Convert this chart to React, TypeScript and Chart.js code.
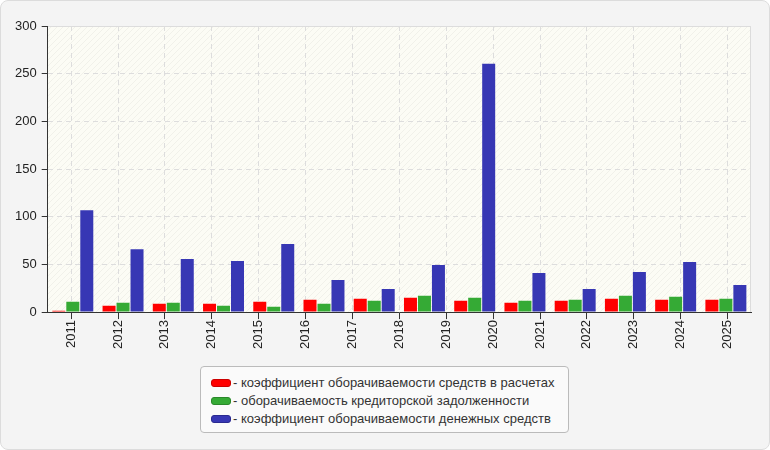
import React, { useEffect, useRef } from "react";
import { Chart, registerables } from "chart.js";

Chart.register(...registerables);

// Tick labels shown on the category axis (15)
const yearLabels = [
  "2011", "2012", "2013", "2014", "2015", "2016", "2017", "2018",
  "2019", "2020", "2021", "2022", "2023", "2024", "2025",
];
// Bar groups as drawn in the reference (14 groups)
const barSlots = [
  "2011", "2012", "2013", "2014", "2015", "2016", "2017",
  "2018", "2019", "2020", "2021", "2022", "2023", "2024",
];

const receivablesTurnover = [1.4, 6.6, 8.7, 8.7, 10.8, 12.9, 13.9, 14.9, 11.8, 9.7, 11.8, 13.9, 12.9, 12.9];
const payablesTurnover = [10.8, 9.7, 9.7, 6.6, 5.5, 8.7, 11.8, 17.0, 14.9, 11.8, 12.9, 17.0, 16.0, 13.9];
const cashTurnover = [106.8, 66.0, 55.7, 53.6, 71.3, 33.7, 24.3, 49.4, 260.3, 41.0, 24.3, 42.1, 52.5, 28.5];

const seriesNames = [
  "коэффициент оборачиваемости средств в расчетах",
  "оборачиваемость кредиторской задолженности",
  "коэффициент оборачиваемости денежных средств",
];
const seriesColors = ["#ff0000", "#35aa35", "#3737b4"];
const seriesBorders = ["#cc0000", "#2a882a", "#2a2a90"];

const yMin = 0;
const yMax = 300;
const yStep = 50;

const FONT = "'Liberation Sans', Arial, sans-serif";

const plotBackground = {
  id: "plotBackground",
  beforeDraw(chart: any) {
    const { ctx, chartArea: a } = chart;
    if (!a) return;
    const p = document.createElement("canvas");
    p.width = 6;
    p.height = 6;
    const pc = p.getContext("2d")!;
    pc.fillStyle = "#fcfcf5";
    pc.fillRect(0, 0, 6, 6);
    pc.strokeStyle = "rgba(0,0,0,0.045)";
    pc.lineWidth = 1;
    pc.beginPath();
    pc.moveTo(0, 6);
    pc.lineTo(6, 0);
    pc.moveTo(-1, 1);
    pc.lineTo(1, -1);
    pc.moveTo(5, 7);
    pc.lineTo(7, 5);
    pc.stroke();
    ctx.save();
    const pat = ctx.createPattern(p, "repeat");
    if (pat) ctx.fillStyle = pat;
    ctx.fillRect(a.left, a.top, a.right - a.left, a.bottom - a.top);
    ctx.strokeStyle = "#dcdcdc";
    ctx.lineWidth = 1;
    ctx.beginPath();
    ctx.moveTo(a.left, a.top + 0.5);
    ctx.lineTo(a.right - 0.5, a.top + 0.5);
    ctx.lineTo(a.right - 0.5, a.bottom);
    ctx.stroke();
    ctx.restore();
  },
};

export default function App() {
  const canvasRef = useRef<HTMLCanvasElement | null>(null);

  useEffect(() => {
    if (!canvasRef.current) return;
    const datasets = [receivablesTurnover, payablesTurnover, cashTurnover].map((d, i) => ({
      label: seriesNames[i],
      data: d,
      backgroundColor: seriesColors[i],
      borderWidth: 0,
      xAxisID: "xb",
      yAxisID: "y",
      categoryPercentage: 0.835,
      barPercentage: 0.93,
    }));
    const chart = new Chart(canvasRef.current, {
      type: "bar",
      data: { labels: barSlots, datasets },
      plugins: [plotBackground],
      options: {
        animation: false,
        responsive: false,
        maintainAspectRatio: false,
        devicePixelRatio: 1,
        layout: { padding: { left: 10, top: 26, right: 19, bottom: 100 } },
        plugins: {
          legend: { display: false },
          tooltip: { enabled: false },
        },
        scales: {
          xb: {
            type: "category",
            axis: "x",
            position: "bottom",
            labels: barSlots,
            offset: true,
            display: false,
          },
          x: {
            type: "category",
            position: "bottom",
            labels: yearLabels,
            offset: true,
            grid: {
              offset: false,
              color: "#dddddd",
              tickColor: "#333333",
              tickLength: 7,
              tickBorderDash: [],
            },
            border: { color: "#333333", dash: [5, 4], width: 1 },
            ticks: {
              autoSkip: false,
              maxRotation: 90,
              minRotation: 90,
              padding: 1,
              color: "#222222",
              font: { family: FONT, size: 13 },
            },
          },
          y: {
            type: "linear",
            min: yMin,
            max: yMax,
            grid: {
              color: "#dddddd",
              tickColor: "#333333",
              tickLength: 6,
              tickBorderDash: [],
            },
            border: { color: "#333333", dash: [5, 4], width: 1 },
            ticks: {
              stepSize: yStep,
              padding: 5,
              color: "#222222",
              font: { family: FONT, size: 13 },
            },
          },
        },
      },
    } as any);
    return () => chart.destroy();
  }, []);

  return (
    <div
      style={{
        position: "fixed",
        left: 0,
        top: 0,
        width: 770,
        height: 450,
        boxSizing: "border-box",
        background: "#f4f4f4",
        border: "1px solid #dcdcdc",
        borderRadius: 8,
        overflow: "hidden",
        fontFamily: FONT,
      }}
    >
      <canvas
        ref={canvasRef}
        width={770}
        height={450}
        style={{ position: "absolute", left: -1, top: -1, width: 770, height: 450 }}
      />
      <div
        style={{
          position: "absolute",
          left: 199,
          top: 365,
          width: 369,
          height: 67,
          boxSizing: "border-box",
          background: "#fafafa",
          border: "1px solid #bbbbbb",
          borderRadius: 4,
          paddingTop: 7,
          paddingLeft: 10,
          fontSize: 13,
          color: "#333333",
        }}
      >
        {seriesNames.map((name, i) => (
          <div key={name} style={{ height: 18, lineHeight: "18px", display: "flex", alignItems: "center", whiteSpace: "nowrap" }}>
            <span
              style={{
                display: "inline-block",
                width: 18,
                height: 6,
                background: seriesColors[i],
                border: `1px solid ${seriesBorders[i]}`,
                borderRadius: 3,
                marginRight: 2,
              }}
            />
            <span>- {name}</span>
          </div>
        ))}
      </div>
    </div>
  );
}
